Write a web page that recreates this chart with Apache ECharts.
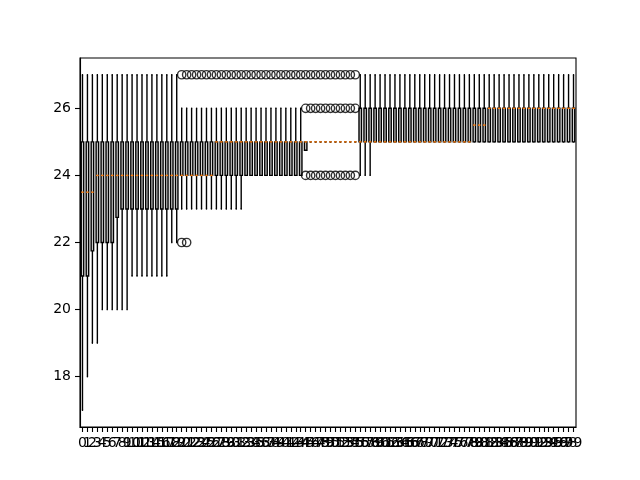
<!DOCTYPE html>
<html><head><meta charset="utf-8">
<script src="https://cdn.jsdelivr.net/npm/echarts@6/dist/echarts.min.js"></script>
<style>html,body{margin:0;padding:0;background:#fff}#c{width:640px;height:480px}</style>
</head><body><div id="c"></div>
<script>
const categories = ['0','1','2','3','4','5','6','7','8','9','10','11','12','13','14','15','16','17','18','19','20','21','22','23','24','25','26','27','28','29','30','31','32','33','34','35','36','37','38','39','40','41','42','43','44','45','46','47','48','49','50','51','52','53','54','55','56','57','58','59','60','61','62','63','64','65','66','67','68','69','70','71','72','73','74','75','76','77','78','79','80','81','82','83','84','85','86','87','88','89','90','91','92','93','94','95','96','97','98','99'];

const whiskerLow = [17,18,19,19,20,20,20,20,20,20,
  21,21,21,21,21,21,21,21,22,22,
  23,23,23,23,23,23,23,23,23,23,
  23,23,23,24,24,24,24,24,24,24,
  24,24,24,24,24,24.75,25,25,25,25,
  25,25,25,25,25,25,24,24,24,25,
  25,25,25,25,25,25,25,25,25,25,
  25,25,25,25,25,25,25,25,25,25,
  25,25,25,25,25,25,25,25,25,25,
  25,25,25,25,25,25,25,25,25,25];
const q1 = [21,21,21.75,22,22,22,22,22.75,23,23,
  23,23,23,23,23,23,23,23,23,23,
  24,24,24,24,24,24,24,24,24,24,
  24,24,24,24,24,24,24,24,24,24,
  24,24,24,24,24,24.75,25,25,25,25,
  25,25,25,25,25,25,25,25,25,25,
  25,25,25,25,25,25,25,25,25,25,
  25,25,25,25,25,25,25,25,25,25,
  25,25,25,25,25,25,25,25,25,25,
  25,25,25,25,25,25,25,25,25,25];
const medians = [23.5,23.5,23.5,24,24,24,24,24,24,24,
  24,24,24,24,24,24,24,24,24,24,
  24,24,24,24,24,24,24,25,25,25,
  25,25,25,25,25,25,25,25,25,25,
  25,25,25,25,25,25,25,25,25,25,
  25,25,25,25,25,25,25,25,25,25,
  25,25,25,25,25,25,25,25,25,25,
  25,25,25,25,25,25,25,25,25,25.5,
  25.5,25.5,26,26,26,26,26,26,26,26,
  26,26,26,26,26,26,26,26,26,26];
const q3 = [25,25,25,25,25,25,25,25,25,25,
  25,25,25,25,25,25,25,25,25,25,
  25,25,25,25,25,25,25,25,25,25,
  25,25,25,25,25,25,25,25,25,25,
  25,25,25,25,25,25,25,25,25,25,
  25,25,25,25,25,25,26,26,26,26,
  26,26,26,26,26,26,26,26,26,26,
  26,26,26,26,26,26,26,26,26,26,
  26,26,26,26,26,26,26,26,26,26,
  26,26,26,26,26,26,26,26,26,26];
const whiskerHigh = [27,27,27,27,27,27,27,27,27,27,
  27,27,27,27,27,27,27,27,27,27,
  26,26,26,26,26,26,26,26,26,26,
  26,26,26,26,26,26,26,26,26,26,
  26,26,26,26,26,25,25,25,25,25,
  25,25,25,25,25,25,27,27,27,27,
  27,27,27,27,27,27,27,27,27,27,
  27,27,27,27,27,27,27,27,27,27,
  27,27,27,27,27,27,27,27,27,27,
  27,27,27,27,27,27,27,27,27,27];

// outliers: box indices having a flier at the given value
const fliers22 = [20,21];
const fliers24 = [45,46,47,48,49,50,51,52,53,54,55];
const fliers26 = [45,46,47,48,49,50,51,52,53,54,55];
const fliers27 = [20,21,22,23,24,25,26,27,28,29,30,31,32,33,34,35,36,37,38,39,40,41,42,43,44,45,46,47,48,49,50,51,52,53,54,55];

const yTicks = [18,20,22,24,26];

const boxData = categories.map((c, i) => [i, whiskerLow[i], q1[i], medians[i], q3[i], whiskerHigh[i]]);
const flierData = [];
fliers22.forEach(i => flierData.push([i, 22]));
fliers24.forEach(i => flierData.push([i, 24]));
fliers26.forEach(i => flierData.push([i, 26]));
fliers27.forEach(i => flierData.push([i, 27]));

const LW = 1.4;
function renderItem(params, api) {
  const i = api.value(0);
  const lo = api.coord([i, api.value(1)]);
  const p1 = api.coord([i, api.value(2)]);
  const md = api.coord([i, api.value(3)]);
  const p3 = api.coord([i, api.value(4)]);
  const hi = api.coord([i, api.value(5)]);
  const bw = api.size([1, 0])[0];
  const x = p1[0];
  const hb = bw * 0.25, hc = bw * 0.125;
  const black = {stroke: '#000', lineWidth: LW, fill: null};
  return {type: 'group', children: [
    {type: 'line', shape: {x1: x, y1: p1[1], x2: x, y2: lo[1]}, style: black},
    {type: 'line', shape: {x1: x, y1: p3[1], x2: x, y2: hi[1]}, style: black},
    {type: 'line', shape: {x1: x - hc, y1: lo[1], x2: x + hc, y2: lo[1]}, style: black},
    {type: 'line', shape: {x1: x - hc, y1: hi[1], x2: x + hc, y2: hi[1]}, style: black},
    {type: 'rect', shape: {x: x - hb, y: p3[1], width: 2 * hb, height: p1[1] - p3[1]},
      style: {fill: '#d3d3d3', stroke: '#000', lineWidth: LW}},
    {type: 'line', shape: {x1: x - hb, y1: md[1], x2: x + hb, y2: md[1]},
      style: {stroke: '#ff7f0e', lineWidth: LW}}
  ]};
}

const chart = echarts.init(document.getElementById('c'), null, {renderer: 'canvas'});
chart.setOption({
  animation: false,
  backgroundColor: '#fff',
  grid: {left: 80, top: 58, width: 496, height: 369, show: true, borderColor: '#000', borderWidth: 1.1, backgroundColor: 'transparent'},
  xAxis: {
    type: 'category', data: categories, boundaryGap: true,
    axisLine: {show: true, lineStyle: {color: '#000', width: 1.1}},
    axisTick: {show: true, alignWithLabel: true, interval: 0, length: 5, lineStyle: {color: '#000', width: 1.1}},
    axisLabel: {interval: 0, color: '#000', fontSize: 14, fontFamily: 'DejaVu Sans', margin: 9, hideOverlap: false},
    splitLine: {show: false}
  },
  yAxis: {
    type: 'value', min: 16.5, max: 27.5,
    axisLine: {show: true, onZero: false, lineStyle: {color: '#000', width: 1.1}},
    axisTick: {show: true, length: 5, customValues: yTicks, lineStyle: {color: '#000', width: 1.1}},
    axisLabel: {customValues: yTicks, color: '#000', fontSize: 14, fontFamily: 'DejaVu Sans', margin: 9},
    splitLine: {show: false}
  },
  series: [
    {type: 'custom', renderItem: renderItem, data: boxData, encode: {x: 0, y: [1, 2, 3, 4, 5]}, clip: false},
    {type: 'scatter', data: flierData, symbol: 'circle', symbolSize: 8.3,
      itemStyle: {color: 'transparent', borderColor: '#000', borderWidth: 1.4}, z: 5}
  ]
});
</script>
</body></html>
